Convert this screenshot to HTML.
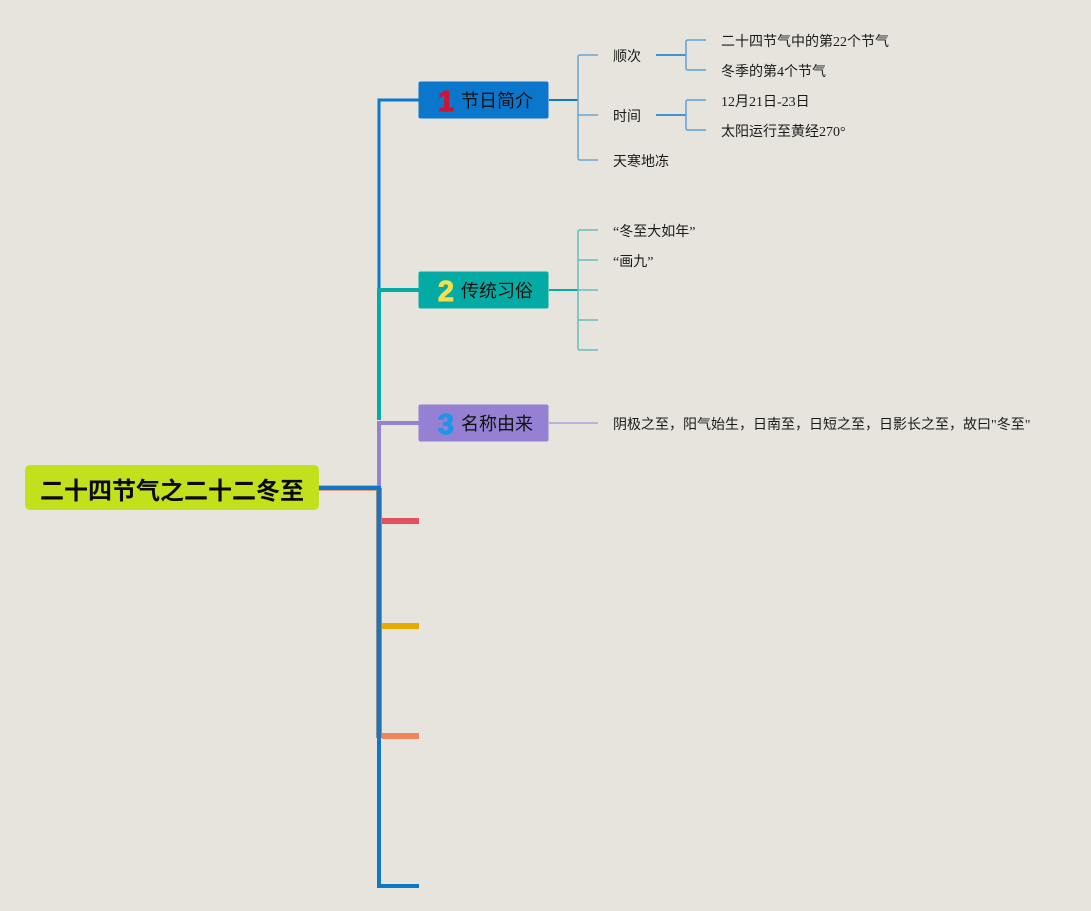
<!DOCTYPE html>
<html lang="zh"><head><meta charset="utf-8"><style>
html,body{margin:0;padding:0;background:#e6e4dc;width:1091px;height:911px;overflow:hidden}
svg{display:block}
text{font-family:"Liberation Serif","WenQuanYi Zen Hei",sans-serif;font-size:14px;fill:#1a1a1a}
.h{font-family:"Liberation Sans","WenQuanYi Zen Hei",sans-serif;font-size:18px;fill:#111}
.n{font-family:"Liberation Sans","Noto Sans CJK SC",sans-serif;font-size:29px;font-weight:bold;text-anchor:middle;stroke-width:1px;stroke-linejoin:round}
</style></head><body>
<svg width="1091" height="911" viewBox="0 0 1091 911" xmlns="http://www.w3.org/2000/svg" fill="none">
<rect width="1091" height="911" fill="#e6e4dc"/>
<!-- trunk -->
<path d="M319 485.500H381M319 490.500H376" stroke="#f0a080" stroke-width="1"/>
<path d="M379 488V738" stroke="#84919b" stroke-width="6"/>
<path d="M319 488H379V886H419" stroke="#0e78c8" stroke-width="4"/>
<path d="M379 489V738" stroke="#2272b4" stroke-width="4"/>
<path d="M379 420V100H419" stroke="#0e78c8" stroke-width="3"/>
<path d="M419 100H379" stroke="#0e78c8" stroke-width="2"/>
<path d="M379 420V290H419" stroke="#04aba5" stroke-width="4"/>
<path d="M379 486V423H419" stroke="#9580d3" stroke-width="4"/>
<path d="M382 521H419" stroke="#e5505f" stroke-width="6"/>
<path d="M382 626H419" stroke="#e8a900" stroke-width="6"/>
<path d="M382 736H419" stroke="#f0845a" stroke-width="6"/>
<!-- branch 1 -->
<path d="M549 100H578" stroke="#0e78c8" stroke-width="2"/>
<path d="M598 55H580Q578 55 578 57V158Q578 160 580 160H598M578 115H598" stroke="#66a5d6" stroke-width="1.500"/>
<path d="M656 55H686M656 115H686" stroke="#3f94d6" stroke-width="2"/>
<path d="M706 40H688Q686 40 686 42V68Q686 70 688 70H706M706 100H688Q686 100 686 102V128Q686 130 688 130H706" stroke="#5fa2d8" stroke-width="1.500"/>
<!-- branch 2 -->
<path d="M549 290H578" stroke="#04aba5" stroke-width="2"/>
<path d="M598 230H580Q578 230 578 232V348Q578 350 580 350H598M578 260H598M578 290H598M578 320H598" stroke="#66bdbb" stroke-width="1.500"/>
<!-- branch 3 -->
<path d="M549 423H598" stroke="#bcb0dd" stroke-width="2"/>
<!-- nodes -->
<rect x="25" y="465" width="294" height="45" rx="5" fill="#c2e01c"/>
<text x="40" y="499" style="font-family:'Liberation Sans','Noto Sans CJK SC',sans-serif;font-size:24px;font-weight:bold;fill:#0a0a0a">二十四节气之二十二冬至</text>
<rect x="418.500" y="81.500" width="130" height="37" rx="2" fill="#0a76cc"/>
<rect x="418.500" y="271.500" width="130" height="37" rx="2" fill="#04aba5"/>
<rect x="418.500" y="404.500" width="130" height="37" rx="2" fill="#9580d3"/>
<text class="n" x="446" y="111" style="fill:#cf1433;stroke:#cf1433">1</text>
<text class="n" x="446" y="301" style="fill:#f7df4c;stroke:#f7df4c">2</text>
<text class="n" x="446" y="434" style="fill:#1e96e6;stroke:#1e96e6">3</text>
<text class="h" x="461" y="107">节日简介</text>
<text class="h" x="461" y="297">传统习俗</text>
<text class="h" x="461" y="430">名称由来</text>
<!-- labels -->
<text x="613" y="61">顺次</text>
<text x="613" y="121">时间</text>
<text x="613" y="166">天寒地冻</text>
<text x="721" y="46">二十四节气中的第22个节气</text>
<text x="721" y="76">冬季的第4个节气</text>
<text x="721" y="106">12月21日-23日</text>
<text x="721" y="136">太阳运行至黄经270°</text>
<text x="613" y="236">“冬至大如年”</text>
<text x="613" y="266">“画九”</text>
<text x="613" y="429">阴极之至，阳气始生，日南至，日短之至，日影长之至，故曰"冬至"</text>
</svg>
</body></html>
